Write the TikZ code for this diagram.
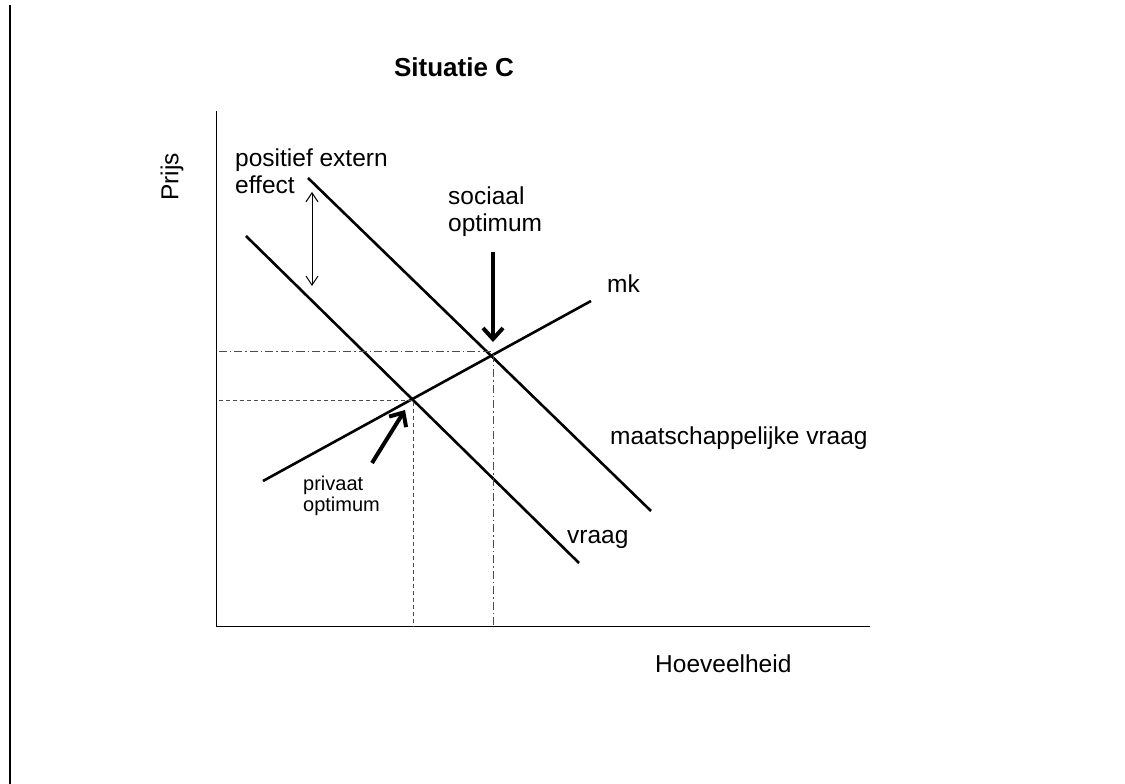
\documentclass[tikz,border=0pt]{standalone}
\usepackage{fontspec}
\setmainfont{Liberation Sans}
\usepackage{tikz}
\usetikzlibrary{arrows.meta}

\begin{document}
\begin{tikzpicture}[x=1pt,y=1pt,
    curve/.style={line width=2.6pt},
    guide/.style={line width=0.9pt, black!70, dash pattern=on 4pt off 3pt},
    guidedash/.style={line width=0.9pt, black!70, dash pattern=on 8pt off 3pt on 1.5pt off 3pt},
    pointer/.style={line width=4pt, -{Straight Barb[length=11pt,width=20pt]}},
    lbl/.style={inner sep=0pt, font=\fontsize{24.5}{27}\selectfont},
    smalllbl/.style={inner sep=0pt, font=\fontsize{20}{21}\selectfont}]
    \useasboundingbox (-217,-157) rectangle (908,627);

    % Frame line at the left
    \draw[line width=1.8pt] (-207,622) -- (-207,-157);

    % Axes
    \draw[line width=1pt] (0,516) -- (0,0) -- (653,0);
    \node[lbl, rotate=90] (prijs) at (-45,450) {Prijs};
    \node[lbl, anchor=base west] (hoeveelheid) at (438,-46) {Hoeveelheid};

    % Title
    \node[lbl, font=\fontsize{26}{28}\selectfont\bfseries, anchor=base] (title) at (237,550) {Situatie C};

    % Equilibrium points
    \coordinate (S) at (276,273);
    \coordinate (P) at (196,227);

    % Curves
    \draw[curve] (46,146) -- (374,326);
    \draw[curve] (91,449) -- (434,116);
    \draw[curve] (29,391) -- (362,64);

    % Guide lines
    \draw[guidedash] (2,276) -- (276,276);
    \draw[guidedash] (S) -- (276,0);
    \draw[guide] (2,227) -- (P) -- (196,0);

    % Curve labels
    \node[lbl, anchor=base west] (mk) at (390,334) {mk};
    \node[lbl, anchor=base west] (mvraag) at (393,182) {maatschappelijke vraag};
    \node[lbl, anchor=base west] (vraag) at (350,83) {vraag};

    % Positive external effect
    \node[lbl, anchor=north west, align=left] (extern) at (18,478) {positief extern\\effect};
    \draw[line width=1pt, {Straight Barb[length=9pt,width=12pt]}-{Straight Barb[length=9pt,width=12pt]}] (95,435) -- (95,341);

    % Optima
    \node[lbl, anchor=north west, align=left] (sociaal) at (231,440) {sociaal\\optimum};
    \coordinate (sociaaltip) at (276,285);
    \draw[pointer] (276,375) -- (sociaaltip);

    \node[smalllbl, anchor=north west, align=left] (privaat) at (86,151) {privaat\\optimum};
    \coordinate (privaattip) at (188,217);
    \draw[pointer] (155,164) -- (privaattip);
\end{tikzpicture}
\end{document}
